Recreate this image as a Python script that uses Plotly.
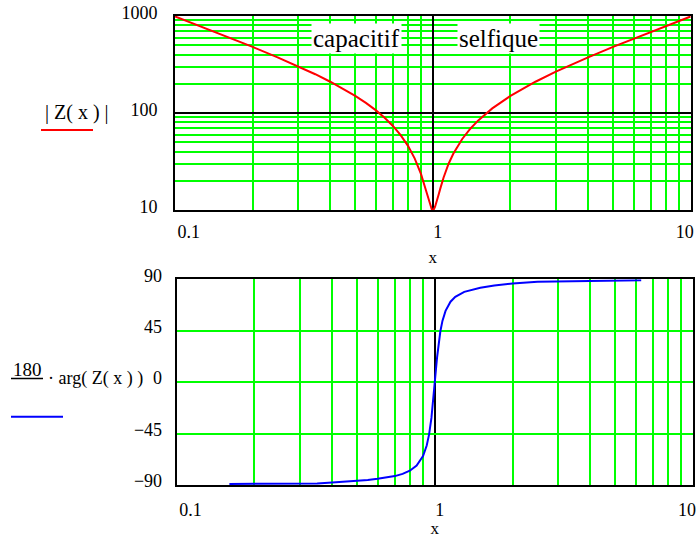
import plotly.graph_objects as go

# ---- data ----
x_mag = [0.1, 0.12, 0.15, 0.2, 0.25, 0.3, 0.35, 0.4, 0.45, 0.5, 0.55, 0.6, 0.65, 0.7,
         0.75, 0.8, 0.85, 0.9, 0.93, 0.95, 0.97, 0.98, 0.99, 1.0, 1.01, 1.02, 1.03,
         1.05, 1.07, 1.1, 1.15, 1.2, 1.3, 1.4, 1.5, 1.7, 2, 2.5, 3, 3.5, 4, 5, 6, 7,
         8, 9, 10]
z_abs = [990, 821, 652, 480, 375, 303.5, 251, 210, 177.5, 150, 127, 107, 89.4, 73.5,
         59.2, 46.1, 34.1, 23.4, 17.6, 14.3, 11.7, 10.8, 10.2, 10.0, 10.2, 10.8, 11.6,
         14.0, 16.8, 21.5, 29.8, 38.0, 54.0, 69.3, 83.9, 111.6, 150, 210, 267, 322,
         375, 480, 583, 686, 788, 889, 990]

x_ph = [0.16, 0.2, 0.25, 0.3, 0.35, 0.4, 0.45, 0.5, 0.55, 0.6, 0.65, 0.7, 0.75,
        0.8, 0.85, 0.9, 0.93, 0.95, 0.97, 0.98, 0.99, 1.0, 1.01, 1.02, 1.03, 1.05,
        1.07, 1.1, 1.15, 1.2, 1.3, 1.4, 1.5, 1.7, 2, 2.5, 3, 3.5, 4, 5, 6, 6.3]
phase_deg = [-89.1, -89.0, -88.9, -88.8, -88.6, -87.8, -87.2, -86.4, -85.6,
             -84.6, -83.6, -82.2, -80.3, -77.5, -73.0, -64.6, -55.5, -45.7, -31.3,
             -22.0, -11.4, 0.0, 11.3, 21.6, 30.6, 44.3, 53.6, 62.4, 70.4, 74.7, 79.0,
             81.2, 82.6, 84.6, 86.4, 87.8, 88.2, 88.5, 88.7, 88.9, 89.1, 89.2]

x_major = [0.1, 1, 10]
# leading figure / thin spaces nudge the labels inside the frame as in the reference
x_major_text = ["\u2007\u2007\u2007\u2007\u20090.1", "\u2007\u2007\u20091", "10"]
x_minor = [0.2, 0.3, 0.4, 0.5, 0.6, 0.7, 0.8, 0.9, 2, 3, 4, 5, 6, 7, 8, 9]
y1_major = [10, 100, 1000]
y1_major_text = ["10", "100", "1000"]
y1_minor = [20, 30, 40, 50, 60, 70, 80, 90, 200, 300, 400, 500, 600, 700, 800, 900]
y2_ticks = [-90, -45, 0, 45, 90]
y2_text = ["\u221290", "\u221245", "0", "45", "90"]

W, H = 698, 538
GREEN = "#00ff00"
FONT = "Liberation Serif, Times New Roman, serif"


def px(s):
    return s / W


def py(s):
    return 1 - s / H


fig = go.Figure()
fig.add_trace(go.Scatter(x=x_mag, y=z_abs, mode="lines",
                         line=dict(color="#ff0000", width=2),
                         xaxis="x", yaxis="y", showlegend=False))
fig.add_trace(go.Scatter(x=x_ph, y=phase_deg, mode="lines",
                         line=dict(color="#0000ff", width=2),
                         xaxis="x2", yaxis="y2", showlegend=False))

tickfont = dict(family=FONT, size=18, color="black")


def x_axis(standoff, title_standoff):
    return dict(type="log", range=[-1, 1], tickvals=x_major, ticktext=x_major_text,
                showgrid=True, gridcolor="black", gridwidth=1.5,
                minor=dict(tickvals=x_minor, showgrid=True, gridcolor=GREEN,
                           gridwidth=1.5, ticklen=0),
                showline=True, linecolor="black", linewidth=2, mirror=True,
                ticks="", zeroline=False, tickfont=tickfont, automargin=False,
                ticklabeloverflow="allow",
                ticklabelstandoff=standoff, ticklabelshift=-6,
                title=dict(text="x", font=dict(family=FONT, size=17, color="black"),
                           standoff=title_standoff))


common_y = dict(showline=True, linecolor="black", linewidth=2, mirror=True,
                ticks="", zeroline=False, tickfont=tickfont, automargin=False,
                ticklabeloverflow="allow")

fig.update_layout(
    width=W, height=H,
    margin=dict(l=0, r=0, t=0, b=0, autoexpand=False),
    paper_bgcolor="white", plot_bgcolor="white",
    font=dict(family=FONT, color="black"),
    xaxis=dict(x_axis(4, 11), domain=[px(175), px(690.7)], anchor="y"),
    yaxis=dict(common_y, type="log", range=[1, 3], domain=[py(210), py(16)], anchor="x",
               tickvals=y1_major, ticktext=y1_major_text,
               showgrid=True, gridcolor="black", gridwidth=1.5,
               minor=dict(tickvals=y1_minor, showgrid=True, gridcolor=GREEN,
                          gridwidth=1.5, ticklen=0),
               ticklabelstandoff=12, ticklabelshift=-3),
    xaxis2=dict(x_axis(7, 14), domain=[px(176.7), px(693)], anchor="y2"),
    yaxis2=dict(common_y, range=[-90, 90], domain=[py(485), py(279.3)], anchor="x2",
                tickvals=y2_ticks, ticktext=y2_text,
                showgrid=True, gridcolor=GREEN, gridwidth=1.5,
                ticklabelstandoff=9, ticklabelshift=-4),
)

# region labels in the top plot
for txt, cx in [("capacitif", 356.5), ("selfique", 498.5)]:
    fig.add_annotation(text=txt, x=px(cx), y=py(38.5), xref="paper", yref="paper",
                       xanchor="center", yanchor="middle",
                       showarrow=False, bgcolor="white", borderpad=1,
                       font=dict(family=FONT, size=25, color="black"))

# y-axis expression labels
fig.add_annotation(text="| Z( x ) |", x=px(77), y=py(113), xref="paper", yref="paper",
                   xanchor="center", yanchor="middle",
                   showarrow=False, font=dict(family=FONT, size=20, color="black"))
fig.add_shape(type="line", xref="paper", yref="paper", x0=px(41), x1=px(93),
              y0=py(130), y1=py(130), line=dict(color="#ff0000", width=2))

fig.add_annotation(text="180", x=px(27), y=py(369), xref="paper", yref="paper",
                   xanchor="center", yanchor="middle",
                   showarrow=False, font=dict(family=FONT, size=19, color="black"))
fig.add_shape(type="line", xref="paper", yref="paper", x0=px(11), x1=px(43),
              y0=py(378.5), y1=py(378.5), line=dict(color="black", width=1.5))
fig.add_annotation(text="\u00b7\u00a0arg( Z( x ) )", x=px(46), y=py(378), xref="paper",
                   yref="paper", xanchor="left", yanchor="middle", showarrow=False,
                   font=dict(family=FONT, size=18, color="black"))
fig.add_shape(type="line", xref="paper", yref="paper", x0=px(11), x1=px(63),
              y0=py(416.7), y1=py(416.7), line=dict(color="#0000ff", width=2))

fig.write_html(
    "out.html",
    config={"displayModeBar": False},
    post_script=("document.body.style.margin='0';"
                 "document.body.style.overflow='hidden';"
                 "document.documentElement.style.overflow='hidden';"),
)
